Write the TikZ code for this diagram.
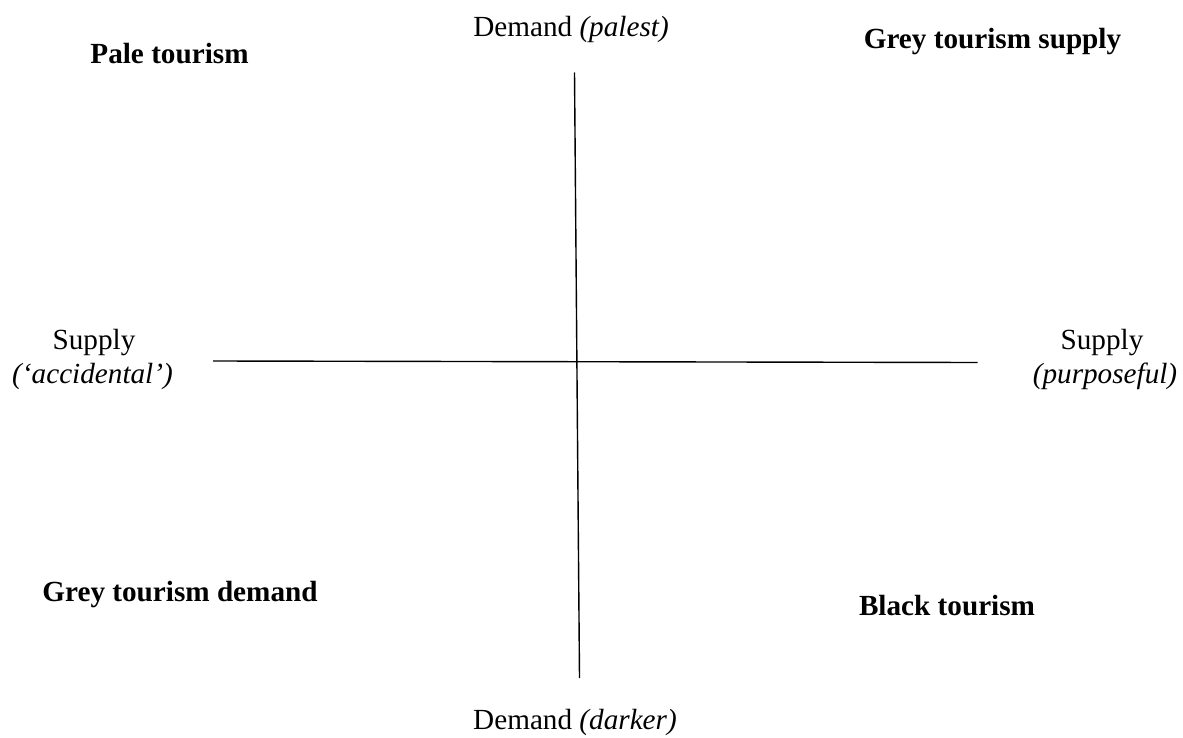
\documentclass[tikz,border=0pt]{standalone}
\usepackage{fontspec}
\setmainfont{Liberation Serif}
\begin{document}
\begin{tikzpicture}[x=0.5pt,y=-0.5pt,
  lbl/.style={anchor=base,inner sep=0pt,font=\fontsize{14.6}{17}\selectfont},
  ttl/.style={lbl,font=\fontsize{14.6}{17}\selectfont\bfseries},
  axis/.style={line width=0.7pt,black}]
\useasboundingbox (0,0) rectangle (1183,738);
% axes
\coordinate (vtop) at (574.5,72.5);
\coordinate (vbot) at (579.5,678);
\coordinate (hl) at (213,361);
\coordinate (hr) at (977.5,362.5);
\draw[axis] (vtop) -- (vbot);
\draw[axis] (hl) -- (hr);
% axis labels
\node[lbl] (dtop) at (571,37) {Demand \textit{(palest)}};
\node[lbl] (dbot) at (575,729) {Demand \textit{(darker)}};
\node[lbl] (sl1) at (94,349) {Supply};
\node[lbl] (sl2) at (92.5,383) {\textit{(‘accidental’)}};
\node[lbl] (sr1) at (1102,349) {Supply};
\node[lbl] (sr2) at (1105,383) {\textit{(purposeful)}};
% quadrant titles
\node[ttl] (pale) at (169.5,64) {Pale tourism};
\node[ttl] (greys) at (992.5,48.5) {Grey tourism supply};
\node[ttl] (greyd) at (180,601) {Grey tourism demand};
\node[ttl] (black) at (947,615) {Black tourism};
\end{tikzpicture}
\end{document}
